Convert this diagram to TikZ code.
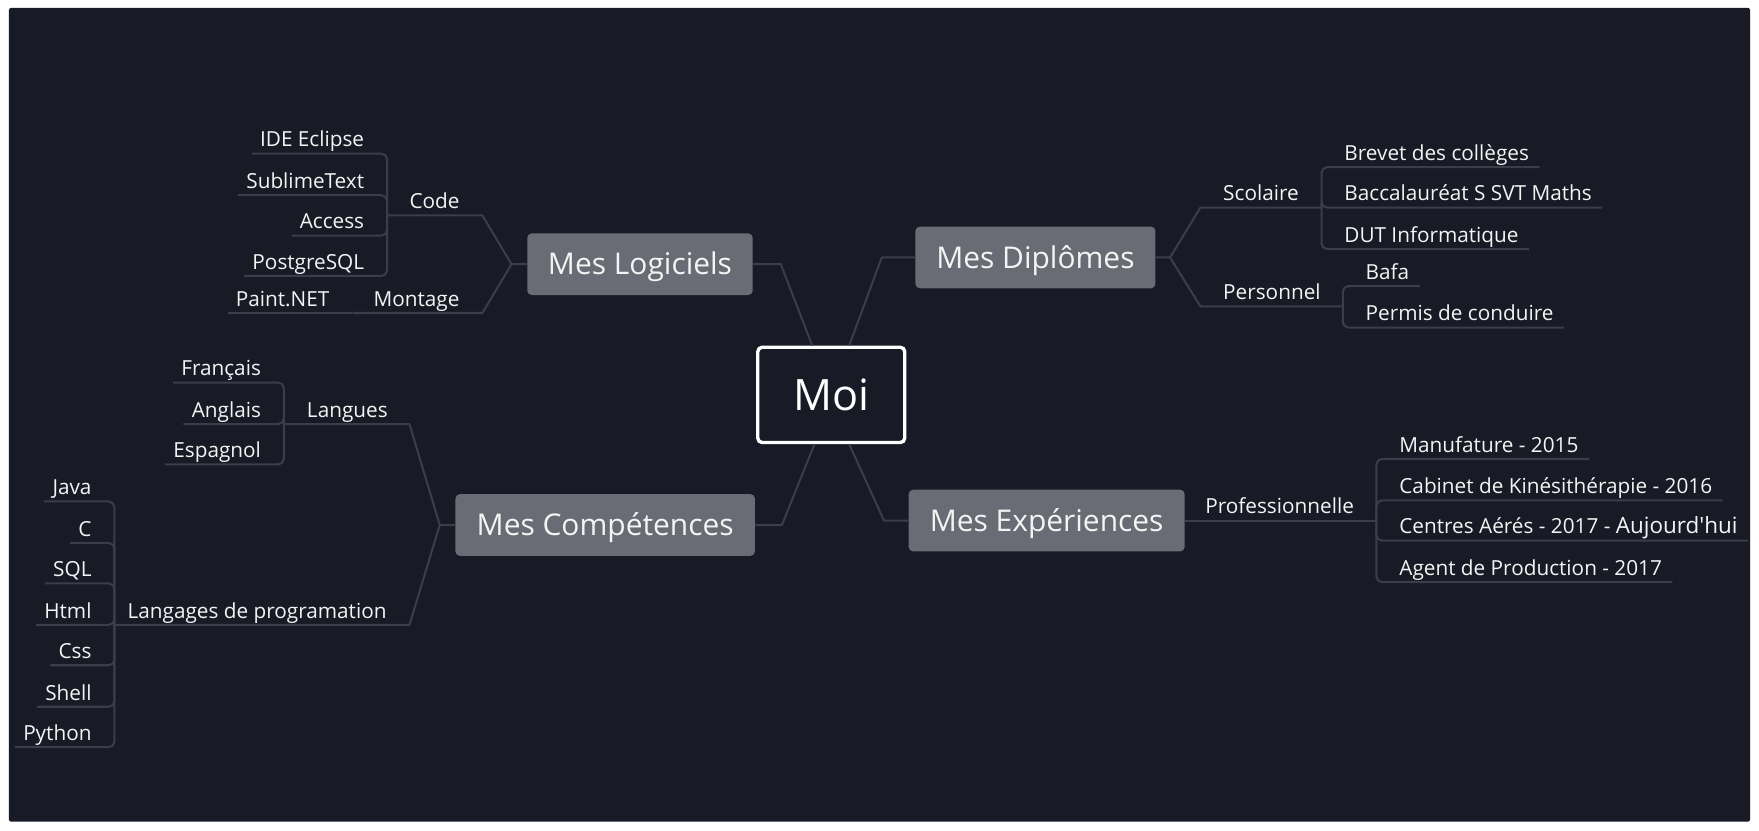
\documentclass[tikz,border=0pt]{standalone}
\usepackage{fontspec}
\setmainfont{Open Sans}
\newfontfamily\osplain{Open Sans}
\usetikzlibrary{calc}
\definecolor{bg}{HTML}{181A25}
\definecolor{boxc}{HTML}{696B75}
\definecolor{linec}{HTML}{3A3D4A}
\definecolor{txt}{HTML}{F4F4F4}
\newcommand{\leaffont}{\fontsize{9.25}{11}\selectfont}
\newcommand{\topicfont}{\fontsize{13.35}{16}\selectfont}
\newcommand{\moifont}{\fontsize{19.25}{23}\selectfont}
\newcommand{\bigleaf}{\osplain\fontsize{10}{12}\selectfont}
\begin{document}
\begin{tikzpicture}[x=0.5pt,y=-0.5pt,
  lf/.style={inner sep=0pt, text=txt, font=\leaffont},
  lL/.style={lf, anchor=base east},
  lR/.style={lf, anchor=base west},
  topic/.style={fill=boxc, rounded corners=2pt, text=txt, font=\topicfont, inner sep=0pt,
                text height=9.53pt, text depth=0pt, minimum height=27.5pt},
  conn/.style={draw=linec, line width=0.9pt, rounded corners=2.5pt, line join=round}]
\fill[white] (0,0) rectangle (1568,740);
\useasboundingbox (0,0) rectangle (1568,740);
\fill[bg, rounded corners=1pt] (8,7) rectangle (1560,732.5);

% central
\node[draw=white, line width=1.5pt, rounded corners=2pt, fill=bg, text=white, font=\moifont,
      text height=13.75pt, text depth=0pt,
      minimum width=65.5pt, minimum height=42.5pt, inner sep=0pt] (moi) at (741,352) {Moi};

% main topics
\node[topic, minimum width=100.5pt] (log) at (570.5,235.5) {Mes Logiciels};
\node[topic, minimum width=107pt] (dip) at (923,229.5) {Mes Diplômes};
\node[topic, minimum width=133.5pt] (comp) at (539.5,468) {Mes Compétences};
\node[topic, minimum width=123pt] (exp) at (933,464) {Mes Expériences};

% central connectors
\draw[conn, rounded corners=0pt] ($(moi.north)+(-17,0)$) -- (696,235.5) -- (log.east);
\draw[conn, rounded corners=0pt] ($(moi.north)+(16,0)$) -- (786,229.5) -- (dip.west);
\draw[conn, rounded corners=0pt] ($(moi.south)+(-15,0)$) -- (697,468) -- (comp.east);
\draw[conn, rounded corners=0pt] ($(moi.south)+(16,0)$) -- (788,464) -- (exp.west);

% ---------- Mes Logiciels ----------
\coordinate (logJ) at (456,235.5);
\coordinate (codeK) at (430,192);
\coordinate (codeB) at (345,192);
\coordinate (montK) at (430,279);
\coordinate (montB) at (314,279);
\node[lL] (code) at (410,186) {Code};
\node[lL] (montage) at (410,273) {Montage};
\draw[conn, rounded corners=0pt] (log.west) -- (logJ) -- (codeK) -- (codeB);
\draw[conn, rounded corners=0pt] (logJ) -- (montK) -- (montB);

\node[lL] (ide) at (325,131) {IDE Eclipse};
\node[lL] (sublime) at (325,168) {SublimeText};
\node[lL] (access) at (325,204) {Access};
\node[lL] (postgres) at (325,240) {PostgreSQL};
\node[lL] (paint) at (294,273) {Paint.NET};
\foreach \n in {ide,sublime,access,postgres}
  \draw[conn] (codeB) |- ($(\n.base west)+(-7,6)$);
\draw[conn] (montB) -- ($(paint.base west)+(-7,6)$);

% ---------- Mes Compétences ----------
\coordinate (compJ) at (392,468);
\coordinate (langK) at (365,378);
\coordinate (langB) at (253,378);
\coordinate (progK) at (365,557);
\coordinate (progB) at (102,557);
\node[lL] (langues) at (346,372) {Langues};
\node[lL] (prog) at (345,551) {Langages de programation};
\draw[conn, rounded corners=0pt] (comp.west) -- (compJ) -- (langK) -- (langB);
\draw[conn, rounded corners=0pt] (compJ) -- (progK) -- (progB);

\node[lL] (fr) at (233,335) {Français};
\node[lL] (en) at (233,372) {Anglais};
\node[lL] (es) at (233,408) {Espagnol};
\foreach \n in {fr,en,es}
  \draw[conn] (langB) |- ($(\n.base west)+(-7,6)$);

\node[lL] (java) at (82,441) {Java};
\node[lL] (c) at (82,478) {C};
\node[lL] (sql) at (82,514) {SQL};
\node[lL] (html) at (82,551) {Html};
\node[lL] (css) at (82,587) {Css};
\node[lL] (shell) at (82,624) {Shell};
\node[lL] (python) at (82,660) {Python};
\foreach \n in {java,c,sql,html,css,shell,python}
  \draw[conn] (progB) |- ($(\n.base west)+(-7,6)$);

% ---------- Mes Diplômes ----------
\coordinate (dipJ) at (1043,229.5);
\coordinate (scolK) at (1070,185);
\coordinate (scolB) at (1178,185);
\coordinate (persK) at (1070,273);
\coordinate (persB) at (1197,273);
\node[lR] (scol) at (1090,179) {Scolaire};
\node[lR] (pers) at (1090,267) {Personnel};
\draw[conn, rounded corners=0pt] (dip.east) -- (dipJ) -- (scolK) -- (scolB);
\draw[conn, rounded corners=0pt] (dipJ) -- (persK) -- (persB);

\node[lR] (brevet) at (1198,143) {Brevet des collèges};
\node[lR] (bac) at (1198,179) {Baccalauréat S SVT Maths};
\node[lR] (dut) at (1198,216) {DUT Informatique};
\foreach \n in {brevet,bac,dut}
  \draw[conn] (scolB) |- ($(\n.base east)+(9,6)$);

\node[lR] (bafa) at (1217,249) {Bafa};
\node[lR] (permis) at (1217,286) {Permis de conduire};
\foreach \n in {bafa,permis}
  \draw[conn] (persB) |- ($(\n.base east)+(9,6)$);

% ---------- Mes Expériences ----------
\coordinate (proB) at (1227,464);
\node[lR] (pro) at (1074,458) {Professionnelle};
\draw[conn, rounded corners=0pt] (exp.east) -- (proB);

\node[lR] (manuf) at (1247,403) {Manufature - 2015};
\node[lR] (cab) at (1247,440) {Cabinet de Kinésithérapie - 2016};
\node[lR] (centres) at (1247,476) {Centres Aérés - 2017 - {\bigleaf Aujourd'hui}};
\node[lR] (agent) at (1247,513) {Agent de Production - 2017};
\foreach \n in {manuf,cab,centres,agent}
  \draw[conn] (proB) |- ($(\n.base east)+(9,6)$);
\end{tikzpicture}
\end{document}
